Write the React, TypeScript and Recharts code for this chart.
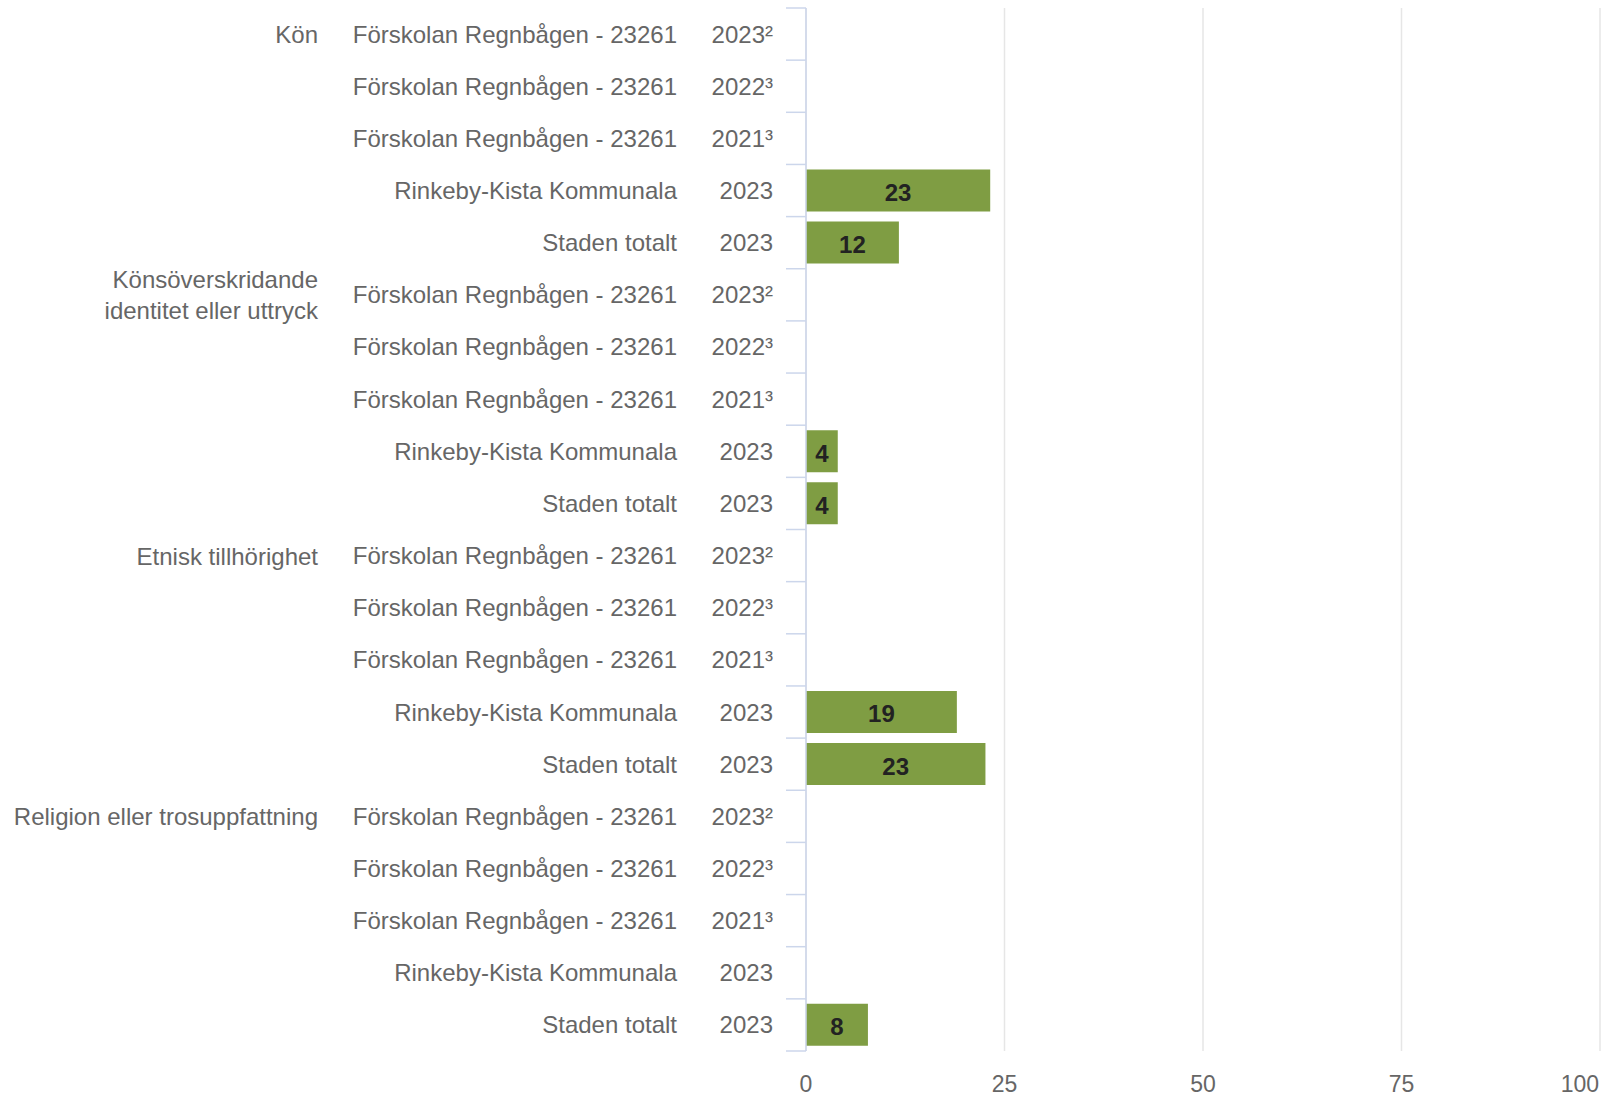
import { BarChart, Bar, XAxis, YAxis, CartesianGrid, LabelList } from "recharts";

const groupLabels = [
  ["Kön"],
  ["Könsöverskridande", "identitet eller uttryck"],
  ["Etnisk tillhörighet"],
  ["Religion eller trosuppfattning"],
];
const unitNames = [
  "Förskolan Regnbågen - 23261",
  "Förskolan Regnbågen - 23261",
  "Förskolan Regnbågen - 23261",
  "Rinkeby-Kista Kommunala",
  "Staden totalt",
];
const yearLabels = ["2023²", "2022³", "2021³", "2023", "2023"];

const konValues = [null, null, null, 23.2, 11.7];
const konsoverskridandeValues = [null, null, null, 4, 4];
const etniskValues = [null, null, null, 19, 22.6];
const religionValues = [null, null, null, null, 7.8];
const groupValues = [konValues, konsoverskridandeValues, etniskValues, religionValues];

const xTicks = [0, 25, 50, 75, 100];

type Row = { id: string; group: string[] | null; unit: string; year: string; value: number | null };

const rows: Row[] = groupLabels.flatMap((g, gi) =>
  unitNames.map((u, ui) => ({
    id: `${gi}-${ui}`,
    group: ui === 0 ? g : null,
    unit: u,
    year: yearLabels[ui],
    value: groupValues[gi][ui],
  }))
);

const W = 1617;
const H = 1096;
const TOP = 8;
const BOTTOM = 45;
const AXIS_X = 806;
const BAND = (H - TOP - BOTTOM) / rows.length;
const FONT = "'Liberation Sans', Arial, sans-serif";
const LABEL_COLOR = "#666666";
const AXIS_COLOR = "#ccd6eb";

const RowTick = (props: any) => {
  const { y, payload } = props;
  const idx = rows.findIndex(r => r.id === payload.value);
  const row = rows[idx];
  if (!row) return null;
  const top = y - BAND / 2;
  const textProps = { fontFamily: FONT, fontSize: 24, fill: LABEL_COLOR, textAnchor: "end" as const, dominantBaseline: "central" as const };
  return (
    <g>
      <line x1={AXIS_X - 20} x2={AXIS_X} y1={top} y2={top} stroke={AXIS_COLOR} strokeWidth={1.5} />
      {idx === rows.length - 1 && (
        <line x1={AXIS_X - 20} x2={AXIS_X} y1={y + BAND / 2} y2={y + BAND / 2} stroke={AXIS_COLOR} strokeWidth={1.5} />
      )}
      {row.group && (
        <text {...textProps}>
          {row.group.map((line, i) => (
            <tspan key={i} x={318} y={y + (i - (row.group!.length - 1) / 2) * 31}>{line}</tspan>
          ))}
        </text>
      )}
      <text x={677} y={y} {...textProps}>{row.unit}</text>
      <text x={773} y={y} {...textProps}>{row.year}</text>
    </g>
  );
};

const ValueTick = (props: any) => {
  const { x, payload } = props;
  const last = payload.value === xTicks[xTicks.length - 1];
  return (
    <text
      x={last ? x - 1 : x}
      y={1084}
      textAnchor={last ? "end" : "middle"}
      dominantBaseline="central"
      fontFamily={FONT}
      fontSize={23}
      fill={LABEL_COLOR}
    >
      {payload.value}
    </text>
  );
};

const BarValue = (p: any) => {
  if (p.value == null) return null;
  return (
    <text
      x={p.x + p.width / 2}
      y={p.y + p.height / 2 + 2}
      textAnchor="middle"
      dominantBaseline="central"
      fontFamily={FONT}
      fontSize={24}
      fontWeight="bold"
      fill="#222222"
    >
      {Math.round(p.value)}
    </text>
  );
};

export default function App() {
  return (
    <div style={{ position: "absolute", left: 0, top: 0, background: "#fff" }}>
      <BarChart
        width={W}
        height={H}
        data={rows}
        layout="vertical"
        margin={{ top: TOP, right: 17, bottom: 0, left: 0 }}
        barCategoryGap="9.5%"
      >
        <CartesianGrid horizontal={false} stroke="#e6e6e6" strokeWidth={1.5} />
        <XAxis
          type="number"
          domain={[0, 100]}
          ticks={xTicks}
          axisLine={false}
          tickLine={false}
          height={BOTTOM}
          tick={<ValueTick />}
          interval={0}
        />
        <YAxis
          type="category"
          dataKey="id"
          width={AXIS_X}
          axisLine={{ stroke: AXIS_COLOR, strokeWidth: 1.5 }}
          tickLine={false}
          tick={<RowTick />}
          interval={0}
        />
        <Bar dataKey="value" fill="#7f9d43" isAnimationActive={false}>
          <LabelList dataKey="value" content={<BarValue />} />
        </Bar>
      </BarChart>
    </div>
  );
}
